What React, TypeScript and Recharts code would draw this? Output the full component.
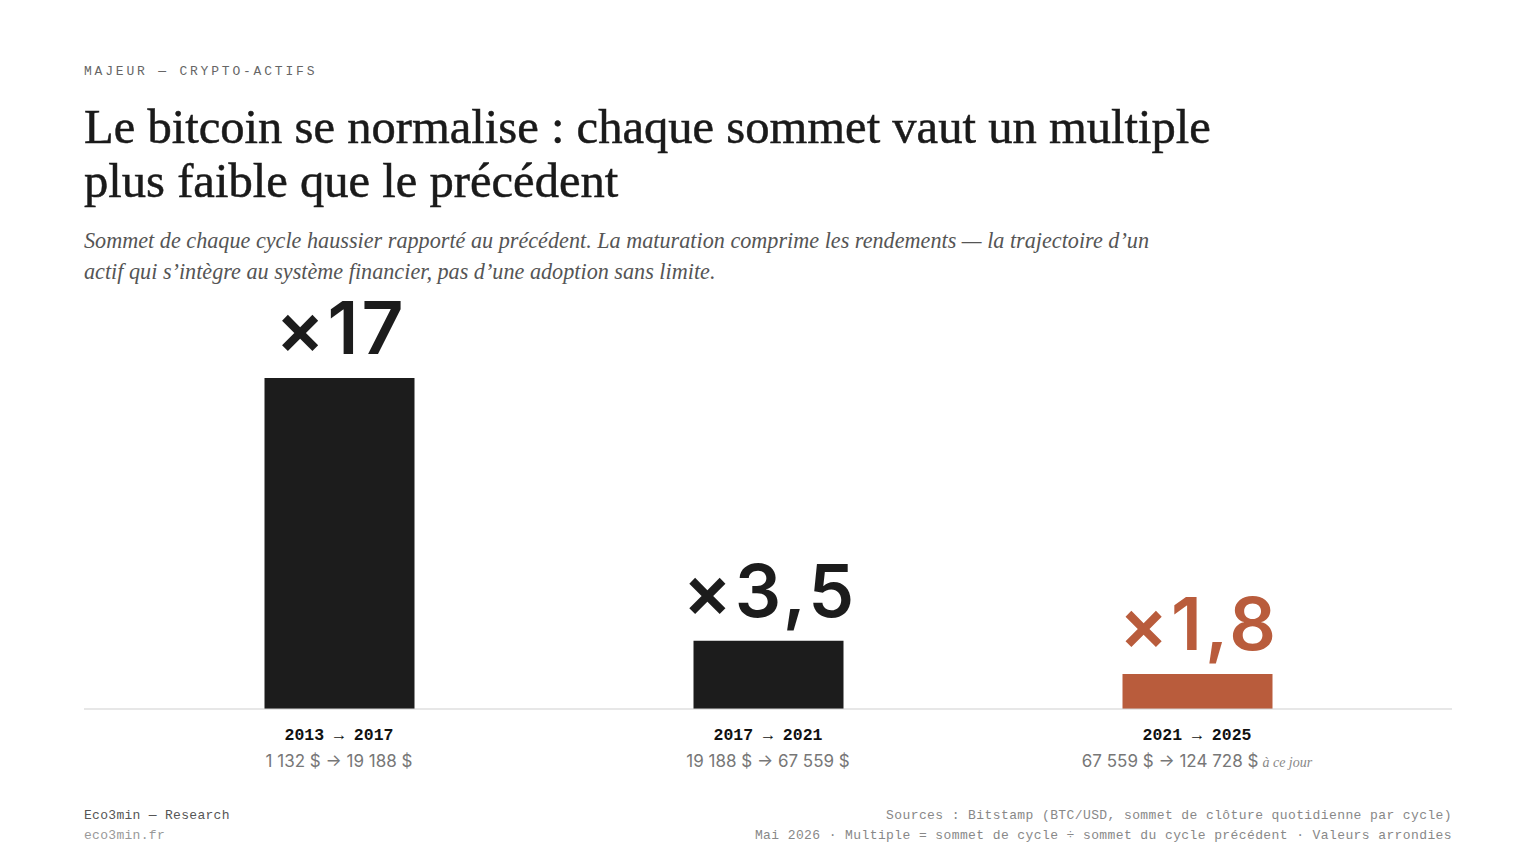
import React from 'react';
import { BarChart, Bar, XAxis, YAxis, Cell, LabelList } from 'recharts';

// cycles (sommet → sommet)
const cycles = ['2013 → 2017', '2017 → 2021', '2021 → 2025'];
const multiples = [17, 3.5, 1.8];
const multipleLabels = ['×17', '×3,5', '×1,8'];
const priceRanges = ['1 132 $ → 19 188 $', '19 188 $ → 67 559 $', '67 559 $ → 124 728 $'];
const priceNotes = ['', '', 'à ce jour'];

const INK = '#1c1c1c';
const RUST = '#b95c3c';
const MONO = '"Liberation Mono", "DejaVu Sans Mono", monospace';
const SERIF = '"Liberation Serif", "DejaVu Serif", serif';
const SANS = 'Inter, Roboto, "Noto Sans", sans-serif';

const data = cycles.map((c, i) => ({
  cycle: c,
  multiple: multiples[i],
  label: multipleLabels[i],
  range: priceRanges[i],
  note: priceNotes[i],
}));

const CycleTick = (props: any) => {
  const { x, y, payload } = props;
  const d = data[payload.index];
  return (
    <g>
      <text x={x} y={y + 23} textAnchor="middle" fontFamily={MONO} fontWeight={700} fontSize={16.5} fill="#111">
        {d.cycle}
      </text>
      <text x={x} y={y + 50} textAnchor="middle" fontFamily={SANS} fontSize={17} fill="#777">
        {d.range}
        {d.note ? (
          <tspan fontFamily={SERIF} fontStyle="italic" fontSize={14} fill="#888" dx={4}>{d.note}</tspan>
        ) : null}
      </text>
    </g>
  );
};

const MultipleLabel = (props: any) => {
  const { x, y, width, index } = props;
  const last = index === data.length - 1;
  return (
    <text x={x + width / 2 + 1.5} y={y - 24} textAnchor="middle" fontFamily={SANS} fontWeight={600}
      fontSize={73} letterSpacing={3} fill={last ? RUST : INK}>
      {data[index].label}
    </text>
  );
};

export default function App() {
  return (
    <div style={{ width: 1536, height: 864, background: '#fff', position: 'relative', margin: -8 }}>
      <div style={{ position: 'absolute', left: 84, top: 64, fontFamily: MONO, fontSize: 13, letterSpacing: 2.8, color: '#666' }}>
        MAJEUR — CRYPTO-ACTIFS
      </div>
      <div style={{ position: 'absolute', left: 84, top: 100, width: 1250, fontFamily: SERIF, fontSize: 48.6, lineHeight: '54px', color: '#1a1a1a', WebkitTextStroke: '0.5px #1a1a1a' }}>
        Le bitcoin se normalise : chaque sommet vaut un multiple<br />plus faible que le précédent
      </div>
      <div style={{ position: 'absolute', left: 84, top: 225, width: 1250, fontFamily: SERIF, fontStyle: 'italic', fontSize: 22.2, lineHeight: '31px', color: '#555' }}>
        Sommet de chaque cycle haussier rapporté au précédent. La maturation comprime les rendements — la trajectoire d’un<br />
        actif qui s’intègre au système financier, pas d’une adoption sans limite.
      </div>
      <div style={{ position: 'absolute', left: 84, top: 280 }}>
        <BarChart width={1368} height={500} data={data} margin={{ top: 20, right: 0, bottom: 0, left: 0 }} barSize={150}>
          <YAxis hide domain={[0, 21]} />
          <XAxis dataKey="cycle" interval={0} tickLine={false} axisLine={{ stroke: '#cfcfcf' }}
            padding={{ left: 40.5, right: 40.5 }} height={71} tick={<CycleTick />} />
          <Bar dataKey="multiple" isAnimationActive={false}>
            {data.map((d, i) => (
              <Cell key={d.cycle} fill={i === data.length - 1 ? RUST : INK} />
            ))}
            <LabelList dataKey="label" content={<MultipleLabel />} />
          </Bar>
        </BarChart>
      </div>
      <div style={{ position: 'absolute', left: 84, top: 806, fontFamily: MONO, fontSize: 13, lineHeight: '20px', letterSpacing: 0.3 }}>
        <div style={{ color: '#555' }}>Eco3min — Research</div>
        <div style={{ color: '#999' }}>eco3min.fr</div>
      </div>
      <div style={{ position: 'absolute', right: 84, top: 806, fontFamily: MONO, fontSize: 13, lineHeight: '20px', color: '#888', textAlign: 'right', letterSpacing: 0.4 }}>
        <div>Sources : Bitstamp (BTC/USD, sommet de clôture quotidienne par cycle)</div>
        <div>Mai 2026 · Multiple = sommet de cycle ÷ sommet du cycle précédent · Valeurs arrondies</div>
      </div>
    </div>
  );
}
